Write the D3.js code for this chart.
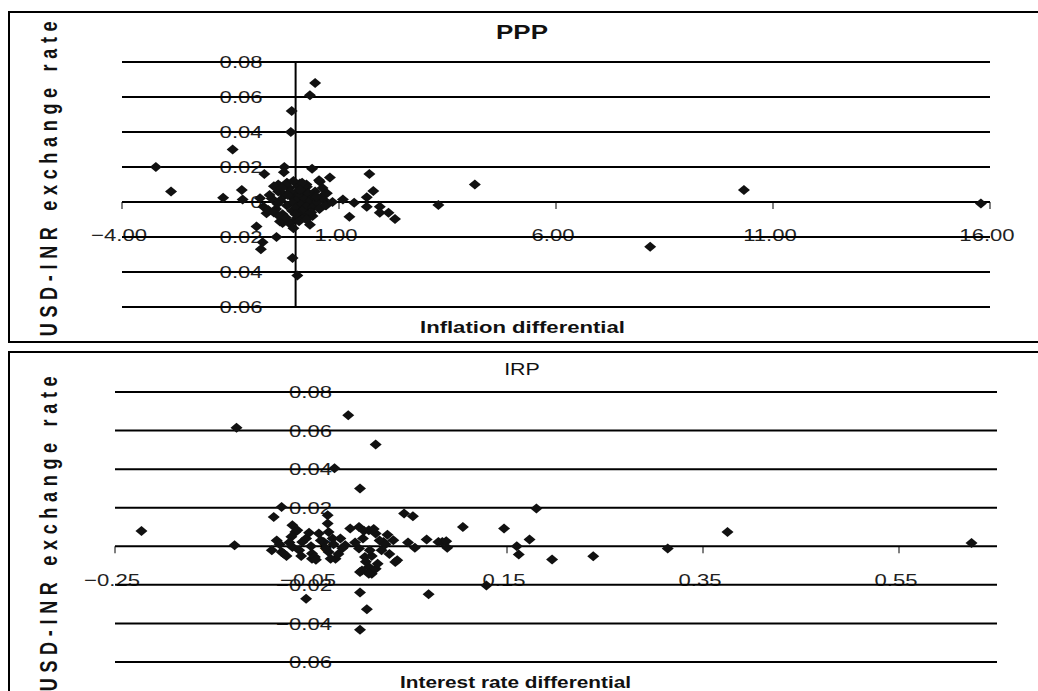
<!DOCTYPE html>
<meta charset="utf-8">
<style>
  body { margin: 0; background: #fff; }
  svg { display: block; }
</style>
<svg width="1038" height="691"></svg>
<script src="https://d3js.org/d3.v7.min.js"></script>
<script>

// exchange rate change (y) vs inflation differential (x)
var pppInflation = [-3.22, -2.87, -1.45, -1.67, -1.24, -1.22, -0.72, -0.26, -0.27, -0.09, -0.11, 0.45, 0.33, 0.38, 0.54, 0.79,
  -0.40, -0.90, -0.76, -0.80, -0.44, -0.30, -0.07, 0.04, 0.33, 0.39, 1.09, 1.35, 1.24, 1.70, 1.79, 1.64, 1.64, 1.94, 1.94,
  2.14, 2.29, 3.29, 0.65, -0.67, -0.82, -0.74, 4.13, 10.33, 15.79, 8.17, 0.56, 0.68, -0.63, -0.36, -0.01, 0.26, -0.20, 0.10,
  -0.55, -0.45, -0.40, -0.35, -0.30, -0.25, -0.20, -0.15, -0.10, -0.08, -0.05, 0.00, 0.02, 0.05, 0.08, 0.10, 0.12, 0.15,
  0.18, 0.20, 0.22, 0.25, 0.28, 0.30, 0.35, 0.40, 0.45, 0.50, 0.55, -0.30, -0.15, 0.05, -0.50, -0.60, 0.60, -0.20, 0.15,
  0.70, -0.05,
  -0.50, -0.38, -0.22, -0.12, 0.00, 0.10, 0.20, 0.30, 0.42, -0.32, -0.18, 0.08, 0.25, -0.05, 0.36, 0.48, -0.42, 0.62, 0.72, 0.85];
var pppRate = [0.020, 0.006, 0.030, 0.0025, 0.0068, 0.0015, 0.016, 0.020, 0.017, 0.052, 0.040, 0.068, 0.061, 0.019, 0.0125, 0.014,
  0.010, -0.014, -0.023, -0.027, -0.020, -0.012, -0.032, -0.042, -0.013, -0.008, 0.0015, -0.0004, -0.0084, 0.016, 0.0063, 0.0027, -0.0027, -0.0027, -0.0061,
  -0.0061, -0.0097, -0.0017, 0.0011, -0.0064, 0.0021, -0.0027, 0.010, 0.0068, -0.0008, -0.0255, 0.0116, -0.0017, -0.0046, -0.0112, -0.0103, 0.0087, 0.0106, 0.0106,
  0.002, -0.004, 0.006, 0.001, -0.007, 0.004, -0.002, 0.008, 0.003, -0.005, 0.000, 0.005, -0.003, 0.009, 0.002, -0.006, 0.004, -0.001,
  0.007, -0.004, 0.002, 0.010, -0.002, 0.005, 0.001, -0.003, 0.006, 0.000, -0.004, -0.010, -0.012, -0.009, -0.006, 0.004, 0.003, 0.011, 0.011,
  -0.002, -0.015,
  0.009, -0.008, -0.009, 0.006, -0.007, 0.007, -0.009, -0.007, 0.003, 0.008, 0.004, -0.011, -0.010, 0.012, -0.006, 0.003, -0.001, 0.008, 0.005, 0.000];

// exchange rate change (y) vs interest rate differential (x)
var irpInterest = [-0.223, -0.126, -0.128, -0.012, 0.016, -0.026, 0.000, -0.080, -0.088, -0.033, -0.033, -0.069, -0.066, 0.045, 0.054,
  0.068, 0.084, 0.049, 0.056, 0.036, 0.070, -0.055, 0.000, 0.007, 0.000, 0.180, 0.105, 0.147, 0.375, 0.624, 0.080, 0.088, 0.089,
  0.160, 0.162, 0.173, 0.196, 0.238, 0.314, 0.129, -0.064, -0.080, -0.069, -0.059, -0.049, -0.042, -0.037, -0.032, -0.025, -0.015,
  -0.010, -0.001, 0.009, 0.016, -0.001, 0.005, 0.009, 0.012, 0.002, 0.024, 0.022, 0.034, 0.038, -0.049, -0.032, -0.078, -0.046,
  -0.030, 0.000, 0.009, 0.016, -0.090, -0.085, 0.028, 0.003, -0.020, 0.012,
  -0.082, -0.075, -0.070, -0.062, -0.055, -0.050, -0.045, -0.040, -0.035, -0.028, -0.022, -0.018, -0.060, -0.072, -0.052, -0.027,
  0.004, 0.014, 0.020, 0.030, 0.006, 0.018, 0.026, 0.010, -0.005];
var irpRate = [0.0079, 0.0615, 0.0005, 0.068, 0.0528, 0.0404, 0.030, 0.0204, 0.0152, 0.0161, 0.0118, 0.0109, 0.0074, 0.017, 0.0156,
  0.0035, 0.0022, 0.0019, -0.0007, -0.0082, -0.0249, -0.0272, -0.0239, -0.0327, -0.0433, 0.0196, 0.0100, 0.0092, 0.0074, 0.0017, 0.0022, 0.0026, -0.0007,
  0.0, -0.0042, 0.0035, -0.0069, -0.0052, -0.0012, -0.0203, 0.0083, -0.003, -0.0004, 0.0022, -0.0038, 0.0066, 0.0022, -0.003, -0.0064, 0.0005,
  0.0092, 0.0100, 0.0083, 0.0066, -0.0012, -0.0056, -0.0108, -0.0142, -0.0125, 0.0022, -0.0021, 0.0031, -0.0073, -0.0064, 0.0074, -0.0038, -0.0056,
  -0.0064, -0.0133, -0.0142, -0.0116, -0.002, 0.003, 0.006, 0.004, 0.004, -0.005,
  0.001, -0.005, 0.005, -0.002, 0.004, 0.000, -0.007, 0.003, -0.001, 0.004, -0.004, -0.001, -0.005, 0.002, 0.007, 0.001,
  0.008, 0.009, 0.003, -0.004, -0.008, -0.009, 0.001, -0.002, 0.002];

var rateTicks = [-0.06, -0.04, -0.02, 0, 0.02, 0.04, 0.06, 0.08];
var pppTicks = [-4, 1, 6, 11, 16];
var irpTicks = [-0.25, -0.05, 0.15, 0.35, 0.55];

var svg = d3.select("svg");
var stretch = 1.3;   // the source picture is widened, text too
var font = "'Liberation Sans', Arial, sans-serif";

function label(g, str, x, y, size, weight, anchor) {
  return g.append("text")
    .attr("transform", "translate(" + x + "," + y + ") scale(" + stretch + ",1)")
    .attr("text-anchor", anchor || "middle")
    .attr("font-family", font)
    .attr("font-size", size)
    .attr("font-weight", weight || "normal")
    .attr("fill", "#111")
    .text(str);
}

function panel(cfg) {
  var g = svg.append("g");

  g.append("rect")
    .attr("x", 9).attr("y", cfg.top)
    .attr("width", 1060).attr("height", cfg.height)
    .attr("fill", "none").attr("stroke", "#000").attr("stroke-width", 2);

  var x = d3.scaleLinear().domain(cfg.xDomain).range(cfg.xRange);
  var y = d3.scaleLinear().domain([-0.06, 0.08]).range(cfg.yRange);
  var x0 = x(0);

  // tick labels of the rate axis sit left of x = 0
  rateTicks.forEach(function(t) {
    label(g, t === 0 ? "0" : d3.format(".2f")(t), x0 - cfg.yLabelGap, y(t), 17, "normal", "end")
      .attr("dy", "0.36em")
      .attr("fill", "#222");
  });

  cfg.xTicks.forEach(function(t) {
    label(g, cfg.xFormat(t), x(t) - 3, cfg.xLabelY, 17, "normal", "middle").attr("fill", "#222");
  });

  g.append("g").selectAll("line")
    .data(rateTicks)
    .enter().append("line")
    .attr("x1", cfg.xRange[0]).attr("x2", cfg.xRange[1])
    .attr("y1", function(d) { return y(d); })
    .attr("y2", function(d) { return y(d); })
    .attr("stroke", "#000").attr("stroke-width", 2);

  // little ticks under the zero line
  g.append("g").selectAll("line")
    .data(cfg.xTicks)
    .enter().append("line")
    .attr("x1", function(d) { return x(d); })
    .attr("x2", function(d) { return x(d); })
    .attr("y1", y(0)).attr("y2", y(0) + 7)
    .attr("stroke", "#000").attr("stroke-width", 1);

  if (cfg.yAxis) {
    g.append("line")
      .attr("x1", x0).attr("x2", x0)
      .attr("y1", y(0.08)).attr("y2", y(-0.06))
      .attr("stroke", "#000").attr("stroke-width", 2);
  }

  g.append("g").selectAll("path")
    .data(d3.range(cfg.xs.length))
    .enter().append("path")
    .attr("d", "M0,-5L6,0L0,5L-6,0Z")
    .attr("transform", function(i) { return "translate(" + x(cfg.xs[i]) + "," + y(cfg.ys[i]) + ")"; })
    .attr("fill", "#111");

  label(g, cfg.title, 522, cfg.titleY, cfg.titleSize, cfg.titleWeight, "middle");
  label(g, cfg.xTitle, cfg.xTitleX, cfg.xTitleY, cfg.xTitleSize, "bold", "start");

  g.append("text")
    .attr("transform", "translate(" + 57 + "," + cfg.yTitleY + ") rotate(-90) scale(1," + stretch + ")")
    .attr("text-anchor", "middle")
    .attr("font-family", font)
    .attr("font-size", 18)
    .attr("font-weight", "bold")
    .attr("letter-spacing", "5.7px")
    .attr("fill", "#111")
    .text("USD-INR exchange rate");
}

panel({
  top: 12, height: 330,
  xDomain: [-4, 16], xRange: [122, 990], yRange: [307, 62],
  xs: pppInflation, ys: pppRate,
  xTicks: pppTicks, xFormat: d3.format(".2f"), xLabelY: 241,
  yLabelGap: 33, yAxis: true,
  title: "PPP", titleY: 39, titleSize: 20, titleWeight: "bold",
  xTitle: "Inflation differential", xTitleX: 420, xTitleY: 333, xTitleSize: 17,
  yTitleY: 176
});

panel({
  top: 352, height: 400,
  xDomain: [-0.25, 0.65], xRange: [115, 997], yRange: [662, 392],
  xs: irpInterest, ys: irpRate,
  xTicks: irpTicks, xFormat: d3.format(".2f"), xLabelY: 586,
  yLabelGap: 28, yAxis: false,
  title: "IRP", titleY: 375, titleSize: 16.5, titleWeight: "normal",
  xTitle: "Interest rate differential", xTitleX: 400, xTitleY: 688, xTitleSize: 16,
  yTitleY: 531
});

</script>
